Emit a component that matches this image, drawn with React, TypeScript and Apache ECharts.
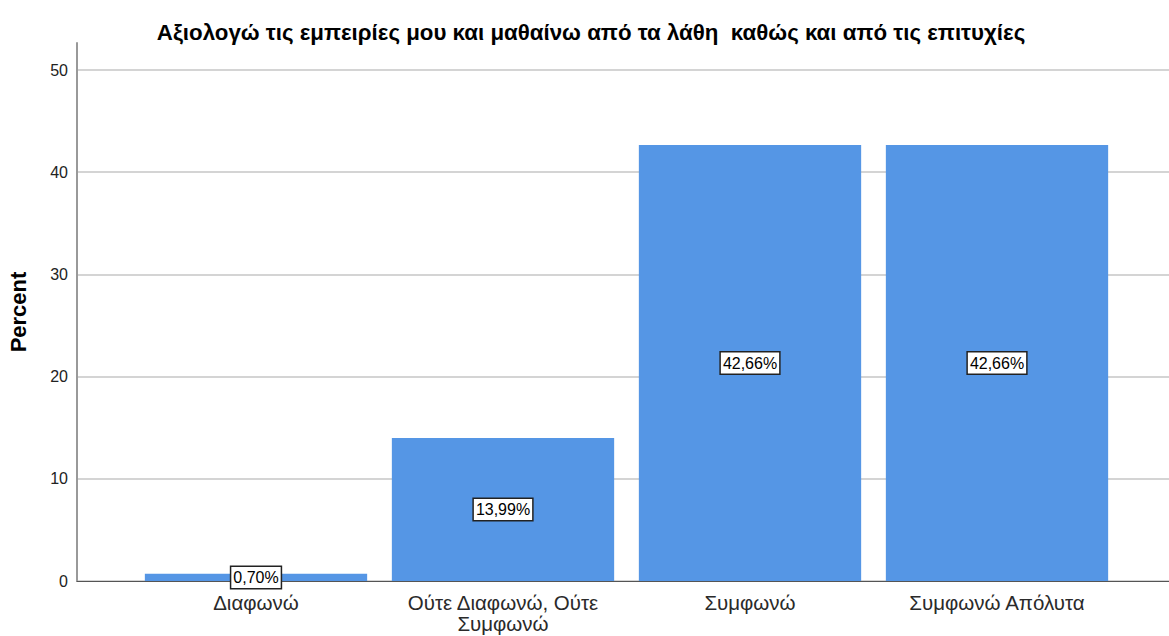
import React, { useEffect, useRef } from "react";
import * as echarts from "echarts";

const title = "Αξιολογώ τις εμπειρίες μου και μαθαίνω από τα λάθη  καθώς και από τις επιτυχίες";
const categories = ["Διαφωνώ", "Ούτε Διαφωνώ, Ούτε\nΣυμφωνώ", "Συμφωνώ", "Συμφωνώ Απόλυτα"];
const percents = [0.70, 13.99, 42.66, 42.66];
const yTicks = [0, 10, 20, 30, 40, 50];
const yLabel = "Percent";

export default function App() {
  const ref = useRef<HTMLDivElement>(null);
  useEffect(() => {
    if (!ref.current) return;
    const chart = echarts.init(ref.current, null, { renderer: "svg" });
    const font = "'Liberation Sans', Arial, sans-serif";
    chart.setOption({
      animation: false,
      title: {
        text: title,
        left: 586,
        textAlign: "center",
        top: 16,
        textStyle: { fontFamily: font, fontSize: 22.3, fontWeight: "bold", color: "#000" },
      },
      grid: [
        { left: 77, right: 0, top: 43, bottom: 55, outerBoundsMode: "none", containLabel: false },
        { left: 77, right: 0, top: 70, bottom: 55, outerBoundsMode: "none", containLabel: false },
        { left: 132.5, right: 48.5, top: 70, bottom: 55, outerBoundsMode: "none", containLabel: false },
      ],
      xAxis: [
        { gridIndex: 0, type: "value", show: false },
        {
          gridIndex: 1, type: "value", min: 0, max: 1,
          axisLine: { show: true, onZero: false, lineStyle: { color: "#555", width: 1 } },
          axisTick: { show: false }, axisLabel: { show: false }, splitLine: { show: false },
        },
        {
          gridIndex: 2, type: "category", data: categories,
          axisLine: { show: false }, axisTick: { show: false },
          axisLabel: {
            fontFamily: font, fontSize: 20.5, color: "#2a2a2a", margin: 11, lineHeight: 21,
            interval: 0,
          },
        },
      ],
      yAxis: [
        {
          gridIndex: 0, type: "value", min: 0, max: 52.6,
          axisLine: { show: true, lineStyle: { color: "#999", width: 2 } },
          axisTick: { show: false }, axisLabel: { show: false }, splitLine: { show: false },
          name: yLabel, nameLocation: "middle", nameGap: 48, nameRotate: 90,
          nameTextStyle: { fontFamily: font, fontSize: 22, fontWeight: "bold", color: "#000" },
        },
        {
          gridIndex: 1, type: "value", min: 0, max: 50, interval: 10,
          axisLine: { show: false }, axisTick: { show: false },
          axisLabel: {
            fontFamily: font, fontSize: 16, color: "#222", margin: 9,
            formatter: (v: number) => (yTicks.includes(v) ? String(v) : ""),
          },
          splitLine: { show: true, lineStyle: { color: "#d4d4d4", width: 2 } },
        },
        {
          gridIndex: 2, type: "value", min: 0, max: 50, show: false,
        },
      ],
      series: [
        {
          type: "bar",
          xAxisIndex: 2,
          yAxisIndex: 2,
          data: percents,
          barCategoryGap: "10%",
          itemStyle: { color: "#5596e5" },
          label: {
            show: true,
            position: "inside",
            formatter: (p: any) => p.value.toFixed(2).replace(".", ",") + "%",
            fontFamily: font,
            fontSize: 16,
            color: "#000",
            backgroundColor: "#fff",
            borderColor: "#222",
            borderWidth: 1.5,
            padding: [3, 2, 2, 2],
          },
        },
      ],
    });
    return () => chart.dispose();
  }, []);
  return <div ref={ref} style={{ width: 1169, height: 636, position: "absolute", left: 0, top: 0 }} />;
}
